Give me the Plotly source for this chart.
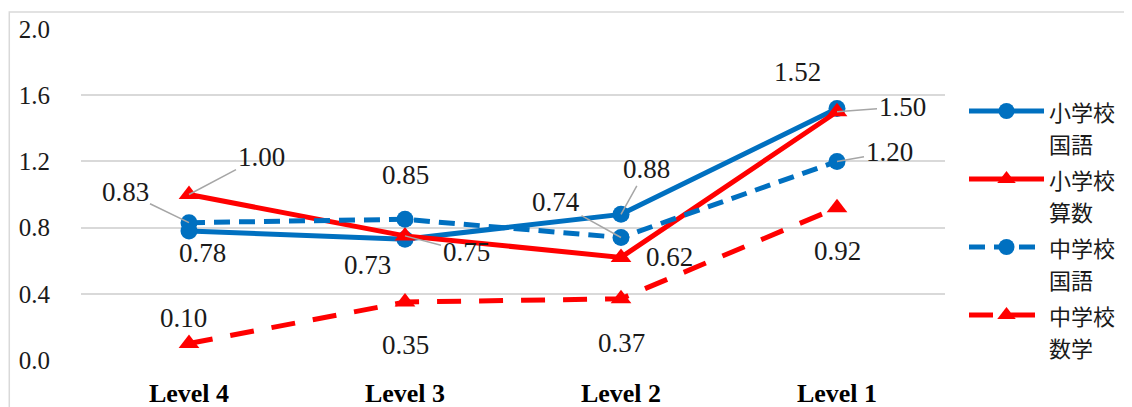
import plotly.graph_objects as go

# ---- data ----
categories = ["Level 4", "Level 3", "Level 2", "Level 1"]
series_lines = [("小学校", "国語"), ("小学校", "算数"), ("中学校", "国語"), ("中学校", "数学")]
elem_kokugo = [0.78, 0.73, 0.88, 1.52]
elem_sansu = [1.00, 0.75, 0.62, 1.50]
jh_kokugo = [0.83, 0.85, 0.74, 1.20]
jh_sugaku = [0.10, 0.35, 0.37, 0.92]
y_ticks = [0.0, 0.4, 0.8, 1.2, 1.6, 2.0]

# ---- styles ----
BLUE = "#0070C0"
RED = "#FF0000"
SERIF = "Liberation Serif"
styles = [
    dict(color=BLUE, dash="solid", symbol="circle", msize=17),
    dict(color=RED, dash="solid", symbol="triangle-up", msize=18),
    dict(color=BLUE, dash="16px,9px", symbol="circle", msize=17),
    dict(color=RED, dash="24px,18px", symbol="triangle-up", msize=18),
]
label_offsets = [
    [(13, 22, False), (-38, 26, False), (25, -45, True), (-40, -36, False)],
    [(72, -38, True), (61, 16, True), (48, 0, False), (65, -5, True)],
    [(-64, -31, True), (0, -44, False), (-65, -36, True), (52, -9, True)],
    [(-6, -25, False), (0, 43, False), (0, 44, False), (0, 43, False)],
]

all_series = [elem_kokugo, elem_sansu, jh_kokugo, jh_sugaku]

LABEL_FONT = dict(family=SERIF, size=27, color="#1a1a1a")
LEG_SPAN = "<span style='font-size:22px'>{}</span>"

fig = go.Figure()
annotations = []
for i, (lines, vals, st, offs) in enumerate(zip(series_lines, all_series, styles, label_offsets)):
    name = "<br>".join(LEG_SPAN.format(t) for t in lines)
    fig.add_trace(go.Scatter(
        x=categories, y=vals, name=name, mode="lines+markers", legendgroup=f"g{i}",
        line=dict(color=st["color"], width=5, dash=st["dash"]),
        marker=dict(symbol=st["symbol"], size=st["msize"], color=st["color"]),
    ))
    for cat, v, (dx, dy, leader) in zip(categories, vals, offs):
        annotations.append(dict(
            x=cat, y=v, xref="x", yref="y", text=f"{v:.2f}",
            showarrow=True, ax=dx, ay=dy, axref="pixel", ayref="pixel",
            arrowhead=0, arrowwidth=1.5, standoff=0,
            arrowcolor="#A6A6A6" if leader else "rgba(0,0,0,0)",
            font=LABEL_FONT,
        ))

# page body has an 8px default margin: figure is 8px smaller and offset
fig.update_layout(
    template="none",
    width=1124, height=399,
    font=dict(family=SERIF, color="#1a1a1a"),
    margin=dict(l=73, r=187, t=21, b=47, autoexpand=False),
    paper_bgcolor="white", plot_bgcolor="white",
    annotations=annotations,
    legend=dict(
        x=1.022, y=0.821, xanchor="left", yanchor="top",
        font=dict(family="Noto Sans CJK JP", size=25, color="#1a1a1a"),
        itemwidth=75, valign="top", bgcolor="rgba(0,0,0,0)",
        tracegroupgap=0,
    ),
    xaxis=dict(
        range=[-0.5, 3.5], showgrid=False, zeroline=False, showline=False,
        ticks="", automargin=False,
        tickfont=dict(family=SERIF, size=26, color="#000000", weight="bold"),
        ticklabelstandoff=15,
    ),
    yaxis=dict(
        range=[0, 2.0], tickvals=y_ticks, ticktext=[f"{t:.1f}" for t in y_ticks],
        showgrid=True, gridcolor="#D9D9D9", gridwidth=1.5, automargin=False,
        zeroline=False, showline=False, ticks="",
        tickfont=dict(family=SERIF, size=25, color="#1a1a1a"),
        ticklabelstandoff=30,
    ),
    shapes=[dict(
        type="rect", xref="paper", yref="paper",
        x0=-0.083, x1=1.25, y0=-0.3, y1=1.051,
        line=dict(color="#D9D9D9", width=1.5), fillcolor="rgba(0,0,0,0)", layer="below",
    )],
    showlegend=True,
)

fig.write_html("out.html")
